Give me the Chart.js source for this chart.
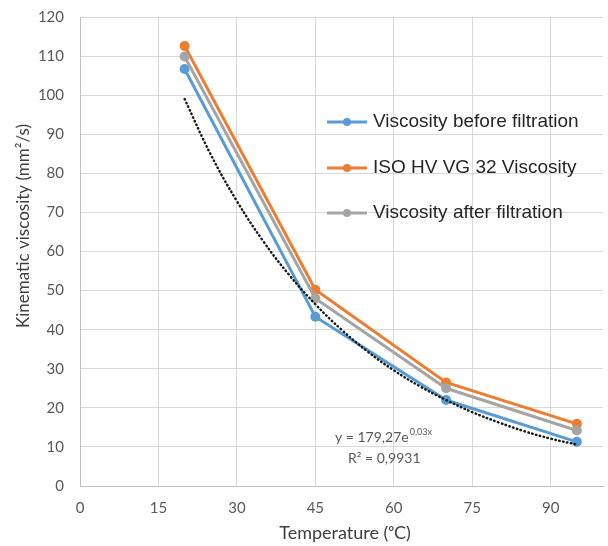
<!DOCTYPE html>
<html>
<head>
<meta charset="utf-8">
<script src="https://cdn.jsdelivr.net/npm/chart.js@4.4.1/dist/chart.umd.min.js"></script>
<style>
  html, body { margin: 0; padding: 0; background: #fff; }
  #wrap { width: 608px; height: 546px; }
</style>
</head>
<body>
<div id="wrap"><canvas id="viscChart" width="608" height="546"></canvas></div>
<script>
// temperatures (°C) and measured viscosities (mm²/s)
const temps = [20, 45, 70, 95];
const beforeFiltration = [106.7, 43.3, 22.0, 11.3];
const isoVG32 = [112.6, 50.2, 26.5, 15.9];
const afterFiltration = [109.9, 48.0, 25.0, 14.2];

// exponential trendline, points
const trendTemps = [20, 25, 30, 35, 40, 45, 50, 55, 60, 65, 70, 75, 80, 85, 90, 95];
const trendValues = [99.0, 84.8, 72.9, 62.7, 54.0, 46.5, 40.0, 34.4, 29.6, 25.5, 22.0, 18.9, 16.3, 14.0, 12.1, 10.6];

const seriesLabels = ['Viscosity before filtration', 'ISO HV VG 32 Viscosity', 'Viscosity after filtration'];
const trendEquation = 'y = 179,27e';
const trendExponent = '0,03x';
const trendR2 = 'R² = 0,9931';
const xTitle = 'Temperature (ᵒC)';
const yTitle = 'Kinematic viscosity (mm²/s)';

const tickFont = { family: 'Lato, "Open Sans", sans-serif', size: 15 };
const tickColor = '#595959';

function toPoints(xs, ys) {
    return xs.map((x, i) => ({ x: x, y: ys[i] }));
}

function series(label, values, color, order) {
    return {
        label: label,
        data: toPoints(temps, values),
        borderColor: color,
        backgroundColor: color,
        borderWidth: 3,
        pointRadius: 5,
        pointHoverRadius: 5,
        pointBorderWidth: 0,
        order: order
    };
}

// legend inside the plot area (line + dot), trend equation and axis titles
const annotations = {
    id: 'annotations',
    afterDatasetsDraw(chart) {
        const ctx = chart.ctx;
        const rows = [122, 168, 213];
        let row = 0;
        ctx.save();
        chart.data.datasets.forEach((ds) => {
            if (ds.isTrend) return;
            const y = rows[row++];
            ctx.strokeStyle = ds.borderColor;
            ctx.lineWidth = 3;
            ctx.beginPath();
            ctx.moveTo(327, y);
            ctx.lineTo(367, y);
            ctx.stroke();
            ctx.fillStyle = ds.borderColor;
            ctx.beginPath();
            ctx.arc(347, y, 4, 0, Math.PI * 2);
            ctx.fill();
            ctx.fillStyle = '#262626';
            ctx.font = '19px "Liberation Sans", Arial, sans-serif';
            ctx.textBaseline = 'middle';
            ctx.textAlign = 'left';
            ctx.fillText(ds.label, 373, y);
        });

        // trendline equation
        ctx.fillStyle = '#595959';
        ctx.font = '14px Lato, sans-serif';
        ctx.textBaseline = 'middle';
        ctx.fillText(trendEquation, 335, 437);
        const w = ctx.measureText(trendEquation).width;
        ctx.font = '9px Lato, sans-serif';
        ctx.fillText(trendExponent, 335 + w + 1, 432);
        ctx.font = '14px Lato, sans-serif';
        ctx.fillText(trendR2, 348, 458);

        // axis titles
        ctx.fillStyle = '#404040';
        ctx.textAlign = 'center';
        ctx.font = '18px Lato, sans-serif';
        ctx.fillText(xTitle, 345, 533);
        ctx.translate(24, 226);
        ctx.rotate(-Math.PI / 2);
        ctx.font = '17px Lato, sans-serif';
        ctx.fillText(yTitle, 0, 0);
        ctx.restore();
    }
};

new Chart(document.getElementById('viscChart'), {
    type: 'line',
    data: {
        datasets: [
            {
                label: 'Trend',
                isTrend: true,
                data: toPoints(trendTemps, trendValues),
                borderColor: '#1a1a1a',
                borderWidth: 2.5,
                borderDash: [0.5, 3.5],
                borderCapStyle: 'round',
                pointRadius: 0,
                tension: 0.4,
                order: 0
            },
            series(seriesLabels[0], beforeFiltration, '#5b9bd5', 3),
            series(seriesLabels[1], isoVG32, '#ed7d31', 2),
            series(seriesLabels[2], afterFiltration, '#a5a5a5', 1)
        ]
    },
    options: {
        responsive: false,
        animation: false,
        layout: { padding: { top: 17, left: 0, right: 0, bottom: 0 } },
        plugins: {
            legend: { display: false },
            tooltip: { enabled: false }
        },
        scales: {
            x: {
                type: 'linear',
                min: 0,
                max: 100,
                afterFit: (scale) => {
                    scale.height = 60;
                    scale.paddingLeft = 0;
                    scale.paddingRight = 0;
                },
                ticks: { stepSize: 15, includeBounds: false, padding: 13, color: tickColor, font: tickFont, maxRotation: 0 },
                grid: { color: '#d9d9d9', lineWidth: 1, drawTicks: false },
                border: { color: '#bfbfbf', width: 1 }
            },
            y: {
                min: 0,
                max: 120,
                afterFit: (scale) => {
                    scale.width = 80;
                    scale.paddingTop = 0;
                    scale.paddingBottom = 0;
                },
                ticks: { stepSize: 10, padding: 16, color: tickColor, font: tickFont },
                grid: { color: '#d9d9d9', lineWidth: 1, drawTicks: false },
                border: { color: '#bfbfbf', width: 1 }
            }
        }
    },
    plugins: [annotations]
});
</script>
</body>
</html>
